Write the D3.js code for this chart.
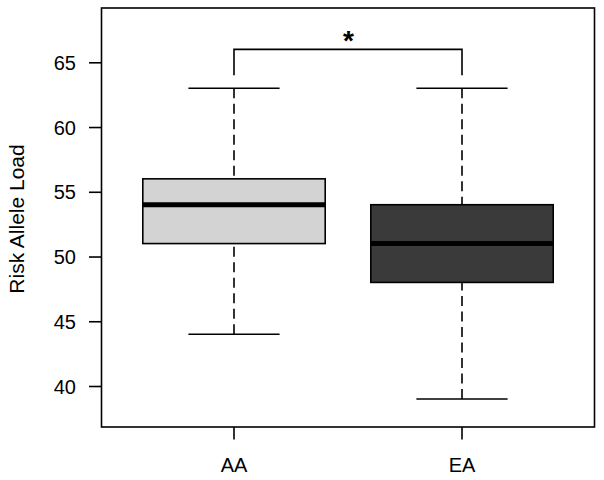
<!DOCTYPE html>
<html>
<head>
<meta charset="utf-8">
<script src="https://cdn.jsdelivr.net/npm/d3@7"></script>
<style>
  body { margin: 0; background: #fff; }
  svg { display: block; font-family: "Liberation Sans", Arial, sans-serif; }
</style>
</head>
<body>
<div id="chart"></div>
<script>
// box summary per group
let groups = ["AA", "EA"];
let whisker_lo = [44, 39];
let q1 = [51, 48];
let medians = [54, 51];
let q3 = [56, 54];
let whisker_hi = [63, 63];
let fills = ["#d3d3d3", "#3a3a3a"];
let y_ticks = [40, 45, 50, 55, 60, 65];
// significance bracket
let sig = {from: "AA", to: "EA", top: 66, leg: 64, label: "*"};

let W = 604, H = 480;
let frame = {left: 101.5, right: 594.5, top: 8, bottom: 427};

let svg = d3.select("#chart").append("svg").attr("width", W).attr("height", H);

let y = d3.scaleLinear().domain([40, 65]).range([386, 62.3]);
let x = d3.scaleLinear().domain([1, 2]).range([234, 462]);
let gx = function(g) { return x(groups.indexOf(g) + 1); };
let box_w = 0.8, cap_w = 0.4;

let data = groups.map(function(g, i) {
  return {name: g, lo: whisker_lo[i], q1: q1[i], med: medians[i], q3: q3[i], hi: whisker_hi[i], fill: fills[i]};
});

// frame
svg.append("rect")
  .attr("x", frame.left).attr("y", frame.top)
  .attr("width", frame.right - frame.left).attr("height", frame.bottom - frame.top)
  .style("fill", "none").style("stroke", "#000").style("stroke-width", 1.6);

// axis Y
let axis_y = svg.append("g").attr("transform", "translate(" + frame.left + ",0)")
  .call(d3.axisLeft(y).tickValues(y_ticks).tickSizeInner(12.5).tickSizeOuter(0).tickPadding(13));
axis_y.select(".domain").remove();
axis_y.selectAll(".tick line").style("stroke", "#000").style("stroke-width", 1.6);
axis_y.selectAll(".tick text").style("font-size", "20px").style("fill", "#000")
  .style("font-family", "'Liberation Sans', Arial, sans-serif").attr("dy", "0.36em");

svg.append("text")
  .attr("transform", "translate(24," + 219 + ") rotate(-90)")
  .attr("text-anchor", "middle")
  .style("font-size", "21px")
  .text("Risk Allele Load");

// axis X
let axis_x = svg.append("g").attr("transform", "translate(0," + frame.bottom + ")");
axis_x.selectAll("line").data(groups).enter().append("line")
  .attr("x1", gx).attr("x2", gx).attr("y1", 0).attr("y2", 12.5)
  .style("stroke", "#000").style("stroke-width", 1.6);
axis_x.selectAll("text").data(groups).enter().append("text")
  .attr("x", gx).attr("y", 45)
  .attr("text-anchor", "middle")
  .style("font-size", "20px")
  .text(function(d) { return d; });

// boxes
let bx = svg.append("g");
let b = bx.selectAll("g").data(data).enter().append("g");

b.append("line")
  .attr("x1", function(d) { return gx(d.name); }).attr("x2", function(d) { return gx(d.name); })
  .attr("y1", function(d) { return y(d.hi); }).attr("y2", function(d) { return y(d.q3); })
  .style("stroke", "#000").style("stroke-width", 1.6).style("stroke-dasharray", "10,5.5");
b.append("line")
  .attr("x1", function(d) { return gx(d.name); }).attr("x2", function(d) { return gx(d.name); })
  .attr("y1", function(d) { return y(d.lo); }).attr("y2", function(d) { return y(d.q1); })
  .style("stroke", "#000").style("stroke-width", 1.6).style("stroke-dasharray", "10,5.5");

["hi", "lo"].forEach(function(k) {
  b.append("line")
    .attr("x1", function(d) { return x(groups.indexOf(d.name) + 1 - cap_w / 2); })
    .attr("x2", function(d) { return x(groups.indexOf(d.name) + 1 + cap_w / 2); })
    .attr("y1", function(d) { return y(d[k]); }).attr("y2", function(d) { return y(d[k]); })
    .style("stroke", "#000").style("stroke-width", 1.6);
});

b.append("rect")
  .attr("x", function(d) { return x(groups.indexOf(d.name) + 1 - box_w / 2); })
  .attr("width", x(1 + box_w) - x(1))
  .attr("y", function(d) { return y(d.q3); })
  .attr("height", function(d) { return y(d.q1) - y(d.q3); })
  .style("fill", function(d) { return d.fill; })
  .style("stroke", "#000").style("stroke-width", 1.6);

b.append("line")
  .attr("x1", function(d) { return x(groups.indexOf(d.name) + 1 - box_w / 2); })
  .attr("x2", function(d) { return x(groups.indexOf(d.name) + 1 + box_w / 2); })
  .attr("y1", function(d) { return y(d.med); }).attr("y2", function(d) { return y(d.med); })
  .style("stroke", "#000").style("stroke-width", 5);

// significance bracket
svg.append("path")
  .attr("d", d3.line()([[gx(sig.from), y(sig.leg)], [gx(sig.from), y(sig.top)], [gx(sig.to), y(sig.top)], [gx(sig.to), y(sig.leg)]]))
  .style("fill", "none").style("stroke", "#000").style("stroke-width", 1.6);
svg.append("text")
  .attr("x", (gx(sig.from) + gx(sig.to)) / 2 + 0.5)
  .attr("y", y(sig.top) + 1)
  .attr("text-anchor", "middle")
  .style("font-size", "28px").style("font-weight", "bold")
  .text(sig.label);
</script>
</body>
</html>
